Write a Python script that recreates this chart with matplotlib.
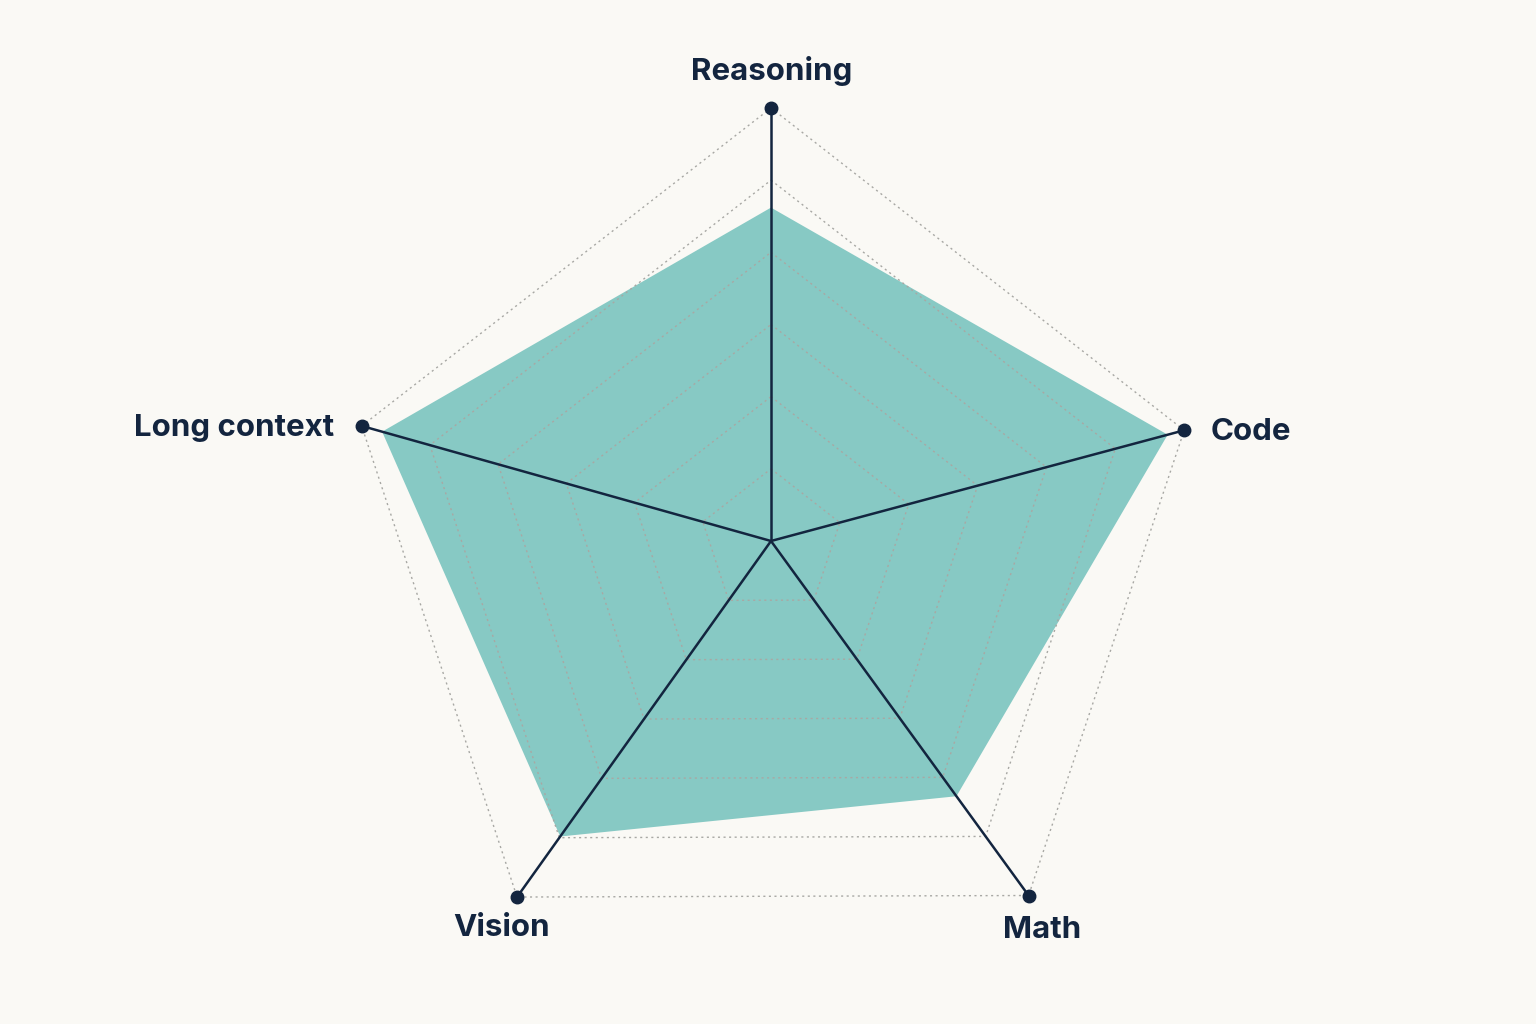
import numpy as np
import matplotlib
matplotlib.use("Agg")
import matplotlib.pyplot as plt

categories = ["Reasoning", "Code", "Math", "Vision", "Long context"]
values = [77, 96, 72, 83, 95]
max_value = 100
n_rings = 6

BG = "#FAF9F5"
NAVY = "#13253F"
FILL = "#87C9C4"
GRID = "#A8A8A4"

W, H, DPI = 1536, 1024, 100
cx, cy, R = 771, 541, 433  # pixel layout of the chart
# spoke directions (degrees, counter-clockwise from +x) and relative lengths as drawn in the reference
spoke_deg = [90, 15, -54, -125.5, 164.3]
spoke_len = [1.0, 0.988, 1.012, 1.01, 0.982]

fig = plt.figure(figsize=(W / DPI, H / DPI), dpi=DPI, facecolor=BG)
ax = fig.add_axes([0, 0, 1, 1])
ax.set_facecolor(BG)
ax.set_xlim(-cx / R, (W - cx) / R)
ax.set_ylim(-(H - cy) / R, cy / R)
ax.set_aspect("equal")
ax.axis("off")

n = len(categories)
angles = np.deg2rad(spoke_deg)
L = np.array(spoke_len)
ux, uy = L * np.cos(angles), L * np.sin(angles)

# data polygon
r = np.array(values) / max_value
ax.fill(r * ux, r * uy, color=FILL, lw=0, zorder=1)

# grid rings
for k in range(1, n_rings + 1):
    f = k / n_rings
    xs = np.append(f * ux, f * ux[0])
    ys = np.append(f * uy, f * uy[0])
    ax.plot(xs, ys, color=GRID, lw=1.0, ls=(0, (1.5, 2.5)), zorder=2)

# spokes and end dots
for i in range(n):
    ax.plot([0, ux[i]], [0, uy[i]], color=NAVY, lw=1.8, zorder=3, solid_capstyle="round")
    ax.plot(ux[i], uy[i], "o", color=NAVY, ms=9, zorder=4)

# labels
font = dict(family=["Inter", "DejaVu Sans"], fontsize=22.5, fontweight="bold", color=NAVY)
lab = {
    "Reasoning": dict(xy=(772, 71), ha="center"),
    "Code": dict(xy=(1211, 432), ha="left"),
    "Math": dict(xy=(1042, 930), ha="center"),
    "Vision": dict(xy=(502, 928), ha="center"),
    "Long context": dict(xy=(334, 428), ha="right"),
}
for c in categories:
    px, py = lab[c]["xy"]
    ax.text((px - cx) / R, (cy - py) / R, c, ha=lab[c]["ha"], va="center", **font)

fig.savefig("out.png", dpi=DPI, facecolor=BG)
